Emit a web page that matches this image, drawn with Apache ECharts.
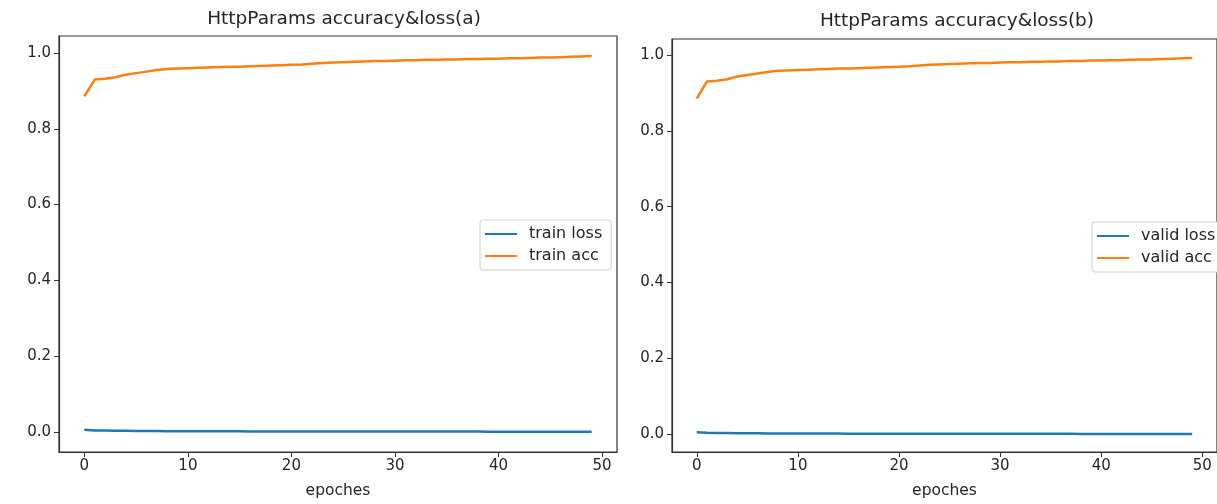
<!DOCTYPE html>
<html>
<head>
<meta charset="utf-8">
<script src="https://cdn.jsdelivr.net/npm/echarts@6/dist/echarts.min.js"></script>
<style>html,body{margin:0;padding:0;background:#fff;}#c{width:1217px;height:504px;}</style>
</head>
<body>
<div id="c"></div>
<script>
const epochs = Array.from({length: 50}, (_, i) => i);
const yTicks = [0, 0.2, 0.4, 0.6, 0.8, 1.0];
const xTicks = [0, 10, 20, 30, 40, 50];
const titles = ['HttpParams accuracy&loss(a)', 'HttpParams accuracy&loss(b)'];

const trainLoss = [0.006,0.004,0.0035,0.003,0.0028,0.0026,0.0024,0.0022,0.002,0.0019,
  0.0018,0.0017,0.0016,0.0016,0.0015,0.0015,0.0014,0.0014,0.0013,0.0013,
  0.0012,0.0012,0.0012,0.0011,0.0011,0.0011,0.001,0.001,0.001,0.001,
  0.0009,0.0009,0.0009,0.0009,0.0008,0.0008,0.0008,0.0008,0.0008,0.0007,
  0.0007,0.0007,0.0007,0.0007,0.0006,0.0006,0.0006,0.0006,0.0006,0.0005];
const trainAcc = [0.886,0.930,0.932,0.936,0.943,0.947,0.951,0.955,0.958,0.959,
  0.960,0.961,0.962,0.963,0.964,0.964,0.965,0.966,0.967,0.968,
  0.969,0.970,0.972,0.974,0.975,0.976,0.977,0.978,0.979,0.979,
  0.980,0.981,0.981,0.982,0.982,0.983,0.983,0.984,0.984,0.985,
  0.985,0.986,0.986,0.987,0.988,0.988,0.989,0.990,0.991,0.992];
const validLoss = [0.005,0.0035,0.003,0.0028,0.0026,0.0024,0.0022,0.002,0.0019,0.0018,
  0.0017,0.0016,0.0016,0.0015,0.0015,0.0014,0.0014,0.0013,0.0013,0.0012,
  0.0012,0.0012,0.0011,0.0011,0.0011,0.001,0.001,0.001,0.001,0.0009,
  0.0009,0.0009,0.0009,0.0008,0.0008,0.0008,0.0008,0.0008,0.0007,0.0007,
  0.0007,0.0007,0.0007,0.0006,0.0006,0.0006,0.0006,0.0006,0.0005,0.0005];
const validAcc = [0.885,0.930,0.932,0.936,0.943,0.947,0.951,0.955,0.958,0.959,
  0.960,0.961,0.962,0.963,0.964,0.964,0.965,0.966,0.967,0.968,
  0.969,0.970,0.972,0.974,0.975,0.976,0.977,0.978,0.979,0.979,
  0.980,0.981,0.981,0.982,0.982,0.983,0.983,0.984,0.984,0.985,
  0.985,0.986,0.986,0.987,0.988,0.988,0.989,0.990,0.991,0.992];

const BLUE = '#1f77b4', ORANGE = '#ff7f0e', TXT = '#262626';
const FONT = 'DejaVu Sans';

function xAxis(gi) {
  return {
    type: 'value', gridIndex: gi, min: -2.45, max: 51.45,
    name: 'epoches', nameLocation: 'middle', nameGap: 31,
    nameTextStyle: {color: TXT, fontSize: 15.5, fontFamily: FONT},
    axisLine: {show: true, onZero: false, lineStyle: {color: '#333', width: 1.2}},
    axisTick: {show: true, inside: false, length: 5, lineStyle: {color: '#333'}, customValues: xTicks},
    axisLabel: {color: TXT, fontSize: 15, fontFamily: FONT, margin: 7, customValues: xTicks,
      formatter: v => String(Math.round(v))},
    splitLine: {show: false}
  };
}
function yAxis(gi, mn, mx) {
  return {
    type: 'value', gridIndex: gi, min: mn, max: mx,
    axisLine: {show: true, onZero: false, lineStyle: {color: '#333', width: 1.2}},
    axisTick: {show: true, inside: false, length: 5, lineStyle: {color: '#333'}, customValues: yTicks},
    axisLabel: {color: TXT, fontSize: 15, fontFamily: FONT, margin: 8, customValues: yTicks,
      formatter: v => v.toFixed(1)},
    splitLine: {show: false}
  };
}
function series(name, data, color, gi) {
  return {
    name, type: 'line', xAxisIndex: gi, yAxisIndex: gi,
    data: epochs.map((e, i) => [e, data[i]]),
    showSymbol: false, symbol: 'none', lineStyle: {color, width: 2.5}, itemStyle: {color},
    animation: false
  };
}
function legend(names, left, top) {
  return {
    data: names.map(n => ({name: n, icon: 'rect'})), orient: 'vertical', left, top,
    itemWidth: 32, itemHeight: 2, itemGap: 6,
    padding: [6, 9, 6, 5], borderColor: '#d0d0d0', borderWidth: 1, borderRadius: 3,
    backgroundColor: '#fff',
    textStyle: {color: TXT, fontSize: 16, fontFamily: FONT, padding: [0, 0, 0, 7]}
  };
}

const chart = echarts.init(document.getElementById('c'), null, {renderer: 'canvas'});
chart.setOption({
  backgroundColor: '#fff',
  animation: false,
  title: [
    {text: titles[0], left: 339, top: 5, textAlign: 'center',
     textStyle: {color: TXT, fontSize: 18.5, fontWeight: 'normal', fontFamily: FONT}},
    {text: titles[1], left: 952, top: 7, textAlign: 'center',
     textStyle: {color: TXT, fontSize: 18.5, fontWeight: 'normal', fontFamily: FONT}}
  ],
  grid: [
    {left: 59, right: 600, top: 36, bottom: 52, show: true, borderColor: '#333', borderWidth: 1.2, containLabel: false},
    {left: 672, right: -10, top: 39, bottom: 52, show: true, borderColor: '#333', borderWidth: 1.2, containLabel: false}
  ],
  legend: [legend(['train loss', 'train acc'], 480, 220), legend(['valid loss', 'valid acc'], 1092, 222)],
  xAxis: [xAxis(0), xAxis(1)],
  yAxis: [yAxis(0, -0.053, 1.045), yAxis(1, -0.047, 1.042)],
  series: [
    series('train loss', trainLoss, BLUE, 0),
    series('train acc', trainAcc, ORANGE, 0),
    series('valid loss', validLoss, BLUE, 1),
    series('valid acc', validAcc, ORANGE, 1)
  ]
});
</script>
</body>
</html>
